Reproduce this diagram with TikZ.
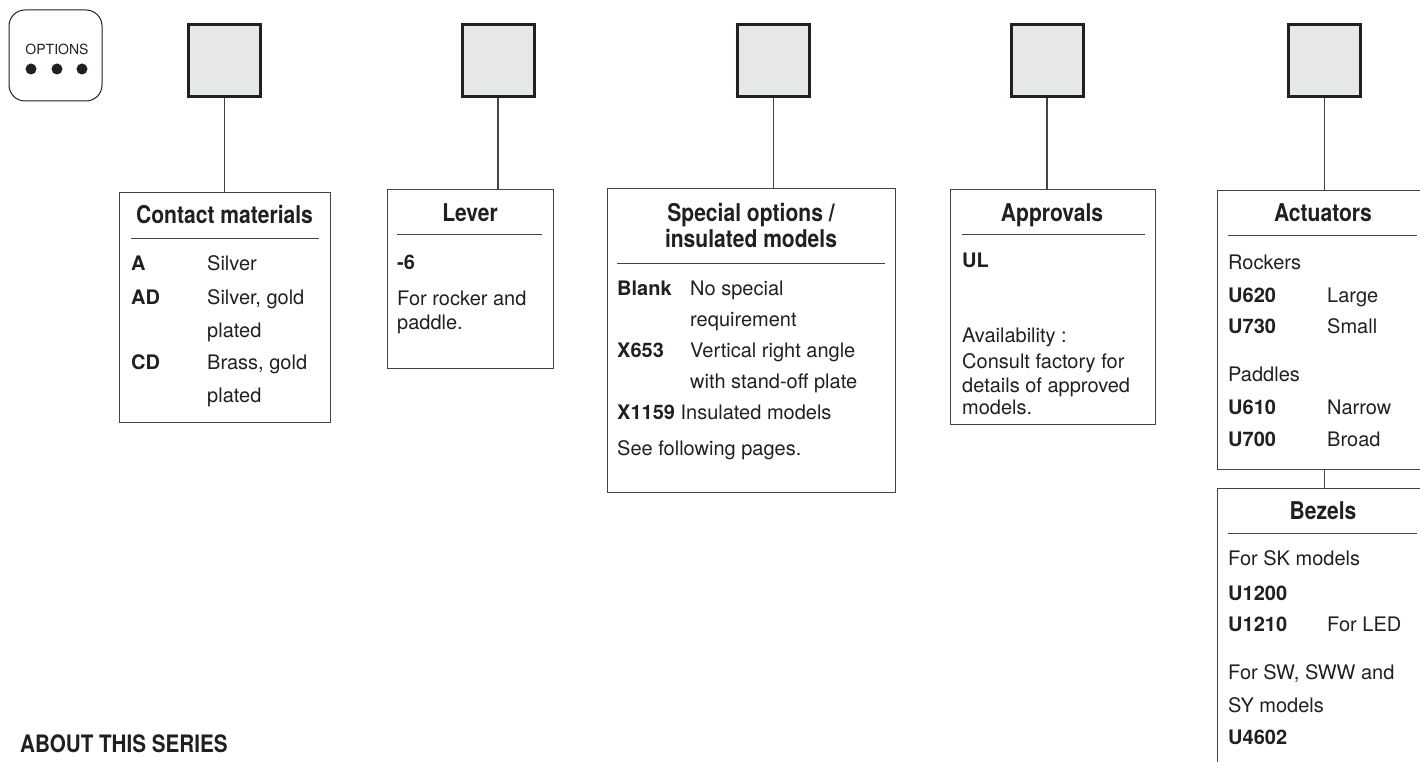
\documentclass[tikz,border=0pt]{standalone}
\usepackage{fontspec}
\setmainfont{TeX Gyre Heros}
\newfontfamily\ttlfont[FakeStretch=0.86]{TeX Gyre Heros}
\definecolor{ink}{HTML}{231F20}
\definecolor{sqfill}{HTML}{E6E7E8}
\definecolor{rule}{HTML}{444444}
\begin{document}
\begin{tikzpicture}[x=1pt,y=-1pt,
  sq/.style={draw=ink,line width=3pt,fill=sqfill,minimum size=72pt,inner sep=0pt},
  infobox/.style={draw=rule,line width=1.1pt,anchor=north west,inner sep=0pt},
  link/.style={draw=rule,line width=1.1pt},
  divline/.style={draw=rule,line width=1pt},
  ttl/.style={anchor=base,inner sep=0pt,text=ink,font=\ttlfont\bfseries\fontsize{24.5}{28}\selectfont},
  txt/.style={anchor=base west,inner sep=0pt,text=ink,font=\fontsize{20}{24}\selectfont},
  btxt/.style={txt,font=\bfseries\fontsize{20}{24}\selectfont}
]
\useasboundingbox (0,0) rectangle (1420,762);

% options badge
\node[draw=ink,line width=1pt,rounded corners=16pt,minimum width=93pt,minimum height=91pt,inner sep=0pt] (opt) at (55.5,55.5) {};
\node[inner sep=0pt,text=ink,font=\fontsize{14}{16}\selectfont] (opttxt) at (57,49) {OPTIONS};
\fill[ink] (31,69) circle (5.5) (57,69) circle (5.5) (82,69) circle (5.5);

% squares
\node[sq] (s1) at (224.5,60.5) {};
\node[sq] (s2) at (498,60.5) {};
\node[sq] (s3) at (773.5,60.5) {};
\node[sq] (s4) at (1047,60.5) {};
\node[sq] (s5) at (1324.5,60.5) {};

% boxes
\node[infobox,minimum width=211pt,minimum height=230pt] (b1) at (119,192) {};
\node[infobox,minimum width=166pt,minimum height=179pt] (b2) at (387,189) {};
\node[infobox,minimum width=288pt,minimum height=304pt] (b3) at (607,188) {};
\node[infobox,minimum width=205pt,minimum height=235pt] (b4) at (950,189) {};
\node[infobox,minimum width=212pt,minimum height=279pt] (b5) at (1217,190) {};
\node[infobox,minimum width=212pt,minimum height=300pt] (b6) at (1217,488) {};

% connectors
\draw[link] (s1.south) -- (s1.south |- b1.north);
\draw[link] (s2.south) -- (s2.south |- b2.north);
\draw[link] (s3.south) -- (s3.south |- b3.north);
\draw[link] (s4.south) -- (s4.south |- b4.north);
\draw[link] (s5.south) -- (s5.south |- b5.north);
\draw[link] (s5.south |- b5.south) -- (s5.south |- b6.north);

% Contact materials
\node[ttl] (t1) at (224.5,223) {Contact materials};
\draw[divline] (131,238) -- (319,238);
\node[btxt] (c1a) at (131,270) {A};
\node[txt] (c1b) at (207,270) {Silver};
\node[btxt] (c2a) at (131,304) {AD};
\node[txt] (c2b) at (207,304) {Silver, gold};
\node[txt] (c2c) at (207,337) {plated};
\node[btxt] (c3a) at (131,369) {CD};
\node[txt] (c3b) at (207,369) {Brass, gold};
\node[txt] (c3c) at (207,402) {plated};

% Lever
\node[ttl] (t2) at (470,221) {Lever};
\draw[divline] (397,234) -- (542,234);
\node[btxt] (l1) at (397,269) {-6};
\node[txt] (l2) at (397,305) {For rocker and};
\node[txt] (l3) at (397,329) {paddle.};

% Special options
\node[ttl] (t3a) at (751,221) {Special options /};
\node[ttl] (t3b) at (751,247) {insulated models};
\draw[divline] (617,263) -- (885,263);
\node[btxt] (p1a) at (617,295) {Blank};
\node[txt] (p1b) at (690,295) {No special};
\node[txt] (p1c) at (690,326) {requirement};
\node[btxt] (p2a) at (617,357) {X653};
\node[txt] (p2b) at (690,357) {Vertical right angle};
\node[txt] (p2c) at (690,388) {with stand-off plate};
\node[txt] (p3) at (617,419) {\bfseries X1159\mdseries\ Insulated models};
\node[txt] (p4) at (617,455) {See following pages.};

% Approvals
\node[ttl] (t4) at (1052,221) {Approvals};
\draw[divline] (962,234) -- (1145,234);
\node[btxt] (a1) at (962,267) {UL};
\node[txt] (a2) at (962,342) {Availability :};
\node[txt] (a3) at (962,368) {Consult factory for};
\node[txt] (a4) at (962,392) {details of approved};
\node[txt] (a5) at (962,414) {models.};

% Actuators
\node[ttl] (t5) at (1323,221) {Actuators};
\draw[divline] (1228,235) -- (1417,235);
\node[txt] (r0) at (1228,269) {Rockers};
\node[btxt] (r1a) at (1228,302) {U620};
\node[txt] (r1b) at (1327,302) {Large};
\node[btxt] (r2a) at (1228,333) {U730};
\node[txt] (r2b) at (1327,333) {Small};
\node[txt] (q0) at (1228,381) {Paddles};
\node[btxt] (q1a) at (1228,414) {U610};
\node[txt] (q1b) at (1327,414) {Narrow};
\node[btxt] (q2a) at (1228,446) {U700};
\node[txt] (q2b) at (1327,446) {Broad};

% Bezels
\node[ttl] (t6) at (1323,519) {Bezels};
\draw[divline] (1228,533) -- (1417,533);
\node[txt] (z0) at (1228,565) {For SK models};
\node[btxt] (z1) at (1228,600) {U1200};
\node[btxt] (z2a) at (1228,631) {U1210};
\node[txt] (z2b) at (1327,631) {For LED};
\node[txt] (z3) at (1228,679) {For SW, SWW and};
\node[txt] (z4) at (1228,712) {SY models};
\node[btxt] (z5) at (1228,744) {U4602};

% footer
\node[anchor=base west,inner sep=0pt,text=ink,font=\ttlfont\bfseries\fontsize{24}{28}\selectfont] (about) at (20,752) {ABOUT THIS SERIES};
\end{tikzpicture}
\end{document}
